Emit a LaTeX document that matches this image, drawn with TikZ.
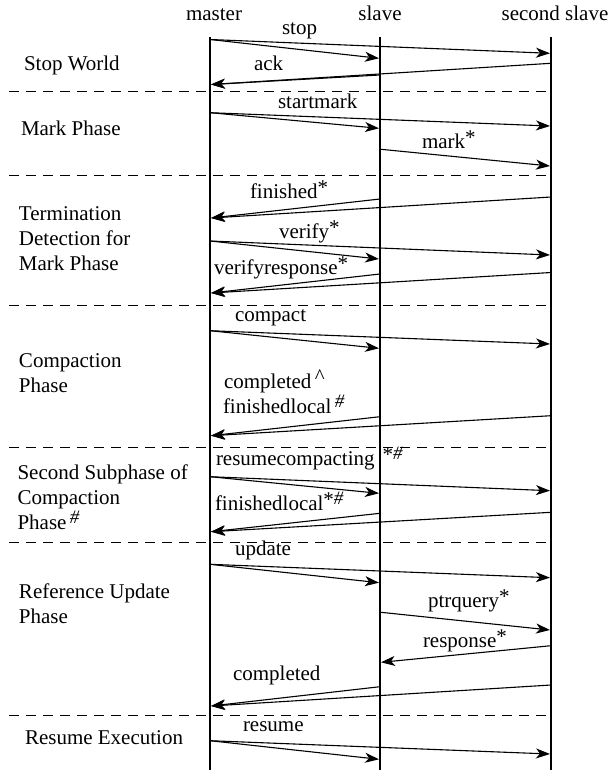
\documentclass[tikz,border=0pt]{standalone}
\usepackage{fontspec}
\setmainfont{Liberation Serif}
\usetikzlibrary{arrows.meta}
\newcommand\supast{\raisebox{4pt}{*}}
\newcommand\suphash{\raisebox{6pt}{\fontsize{19}{19}\selectfont\itshape\#}}
\newcommand\supcaret{\raisebox{5pt}{\textasciicircum}}
\begin{document}
\begin{tikzpicture}[x=1pt,y=-1pt,
  txt/.style={font=\fontsize{21}{25}\selectfont, inner sep=0pt, outer sep=0pt},
  head/.style={txt, anchor=base},
  lbl/.style={txt, anchor=base west},
  sec/.style={txt, anchor=base west, align=left},
  msg/.style={line width=1.1pt, -{Stealth[length=14pt,width=10pt,inset=4pt]}},
  life/.style={line width=1.1pt},
  sep/.style={line width=1pt, dash pattern=on 10pt off 7pt}]
\useasboundingbox (0,0) rectangle (608,771);

% headers
\node[head] (hM) at (214,20) {master};
\node[head] (hS) at (380,20) {slave};
\node[head] (hT) at (555,20) {second slave};

% lifelines
\coordinate (mTop) at (210,37);  \coordinate (mBot) at (210,770);
\coordinate (sTop) at (380,37);  \coordinate (sBot) at (380,770);
\coordinate (tTop) at (551,37);  \coordinate (tBot) at (551,770);
\draw[life] (mTop) -- (mBot);
\draw[life] (sTop) -- (sBot);
\draw[life] (tTop) -- (tBot);

% separators
\foreach \i/\y in {1/91.5,2/175,3/305,4/447,5/542.5,6/715}{
  \coordinate (sepL\i) at (9,\y);
  \coordinate (sepR\i) at (549,\y);
  \draw[sep] (sepL\i) -- (sepR\i);
}

% section labels (base anchor = baseline of the last line)
\node[sec] (secA) at (24,70) {Stop World};
\node[sec] (secB) at (21,135) {Mark Phase};
\node[sec] (secC) at (19,270) {Termination\\Detection for\\Mark Phase};
\node[sec] (secD) at (19,392) {Compaction\\Phase};
\node[sec] (secE) at (17.5,529) {Second Subphase of\\Compaction\\Phase\,\suphash};
\node[sec] (secF) at (19,623) {Reference Update\\Phase};
\node[sec] (secG) at (25,744) {Resume Execution};

% stop
\coordinate (stopM) at (210,39.5);
\coordinate (stopS) at (379,58.3);
\coordinate (stopT) at (550,53.3);
\draw[msg] (stopM) -- (stopS);
\draw[msg] (stopM) -- (stopT);
\node[lbl] (lStop) at (282,34) {stop};

% ack
\coordinate (ackS) at (380,75);
\coordinate (ackT) at (551,63.3);
\coordinate (ackM) at (211,84.5);
\draw[msg] (ackS) -- (ackM);
\draw[msg] (ackT) -- (ackM);
\node[lbl] (lAck) at (254,70) {ack};

% startmark
\coordinate (smM) at (210,112.7);
\coordinate (smS) at (379,128.3);
\coordinate (smT) at (550,126);
\draw[msg] (smM) -- (smS);
\draw[msg] (smM) -- (smT);
\node[lbl] (lSm) at (278,108) {startmark};

% mark
\coordinate (mkS) at (381,149.3);
\coordinate (mkT) at (550,166);
\draw[msg] (mkS) -- (mkT);
\node[lbl] (lMk) at (422,148) {mark\supast};

% finished
\coordinate (fiS) at (380,199);
\coordinate (fiT) at (551,197);
\coordinate (fiM) at (211,218);
\draw[msg] (fiS) -- (fiM);
\draw[msg] (fiT) -- (fiM);
\node[lbl] (lFi) at (250,198) {finished\supast};

% verify
\coordinate (veM) at (210,241);
\coordinate (veS) at (379,259);
\coordinate (veT) at (550,255);
\draw[msg] (veM) -- (veS);
\draw[msg] (veM) -- (veT);
\node[lbl] (lVe) at (279,238) {verify\supast};

% verifyresponse
\coordinate (vrS) at (380,274);
\coordinate (vrT) at (551,272.5);
\coordinate (vrM) at (211,293);
\draw[msg] (vrS) -- (vrM);
\draw[msg] (vrT) -- (vrM);
\node[lbl] (lVr) at (214,274) {verifyresponse\supast};

% compact
\coordinate (coM) at (210,330.7);
\coordinate (coS) at (379,348.3);
\coordinate (coT) at (550,344);
\draw[msg] (coM) -- (coS);
\draw[msg] (coM) -- (coT);
\node[lbl] (lCo) at (235,321) {compact};

% completed / finishedlocal
\coordinate (cfS) at (380,416.7);
\coordinate (cfT) at (551,415.7);
\coordinate (cfM) at (211,435.7);
\draw[msg] (cfS) -- (cfM);
\draw[msg] (cfT) -- (cfM);
\node[lbl] (lCf1) at (224,388) {completed\,\supcaret};
\node[lbl] (lCf2) at (223,413) {finishedlocal\,\suphash};

% resumecompacting
\coordinate (rcM) at (210,476.7);
\coordinate (rcS) at (379,493.3);
\coordinate (rcT) at (550,490.7);
\draw[msg] (rcM) -- (rcS);
\draw[msg] (rcM) -- (rcT);
\node[lbl] (lRc) at (216,465) {resumecompacting\hspace{8pt}\supast\suphash};

% finishedlocal 2
\coordinate (flS) at (380,513.3);
\coordinate (flT) at (551,512.3);
\coordinate (flM) at (211,531.7);
\draw[msg] (flS) -- (flM);
\draw[msg] (flT) -- (flM);
\node[lbl] (lFl) at (215,510) {finishedlocal\supast\suphash};

% update
\coordinate (upM) at (210,564.3);
\coordinate (upS) at (379,582.7);
\coordinate (upT) at (550,577.7);
\draw[msg] (upM) -- (upS);
\draw[msg] (upM) -- (upT);
\node[lbl] (lUp) at (235,555) {update};

% ptrquery
\coordinate (pqS) at (381,612.3);
\coordinate (pqT) at (550,630);
\draw[msg] (pqS) -- (pqT);
\node[lbl] (lPq) at (428,607) {ptrquery\supast};

% response
\coordinate (rsT) at (551,645.7);
\coordinate (rsS) at (381,662.3);
\draw[msg] (rsT) -- (rsS);
\node[lbl] (lRs) at (423,647) {response\supast};

% completed
\coordinate (cpS) at (380,686.7);
\coordinate (cpT) at (551,685);
\coordinate (cpM) at (211,706);
\draw[msg] (cpS) -- (cpM);
\draw[msg] (cpT) -- (cpM);
\node[lbl] (lCp) at (233,680) {completed};

% resume
\coordinate (reM) at (210,740.7);
\coordinate (reS) at (379,759.3);
\coordinate (reT) at (550,754);
\draw[msg] (reM) -- (reS);
\draw[msg] (reM) -- (reT);
\node[lbl] (lRe) at (243,731) {resume};
\end{tikzpicture}
\end{document}
